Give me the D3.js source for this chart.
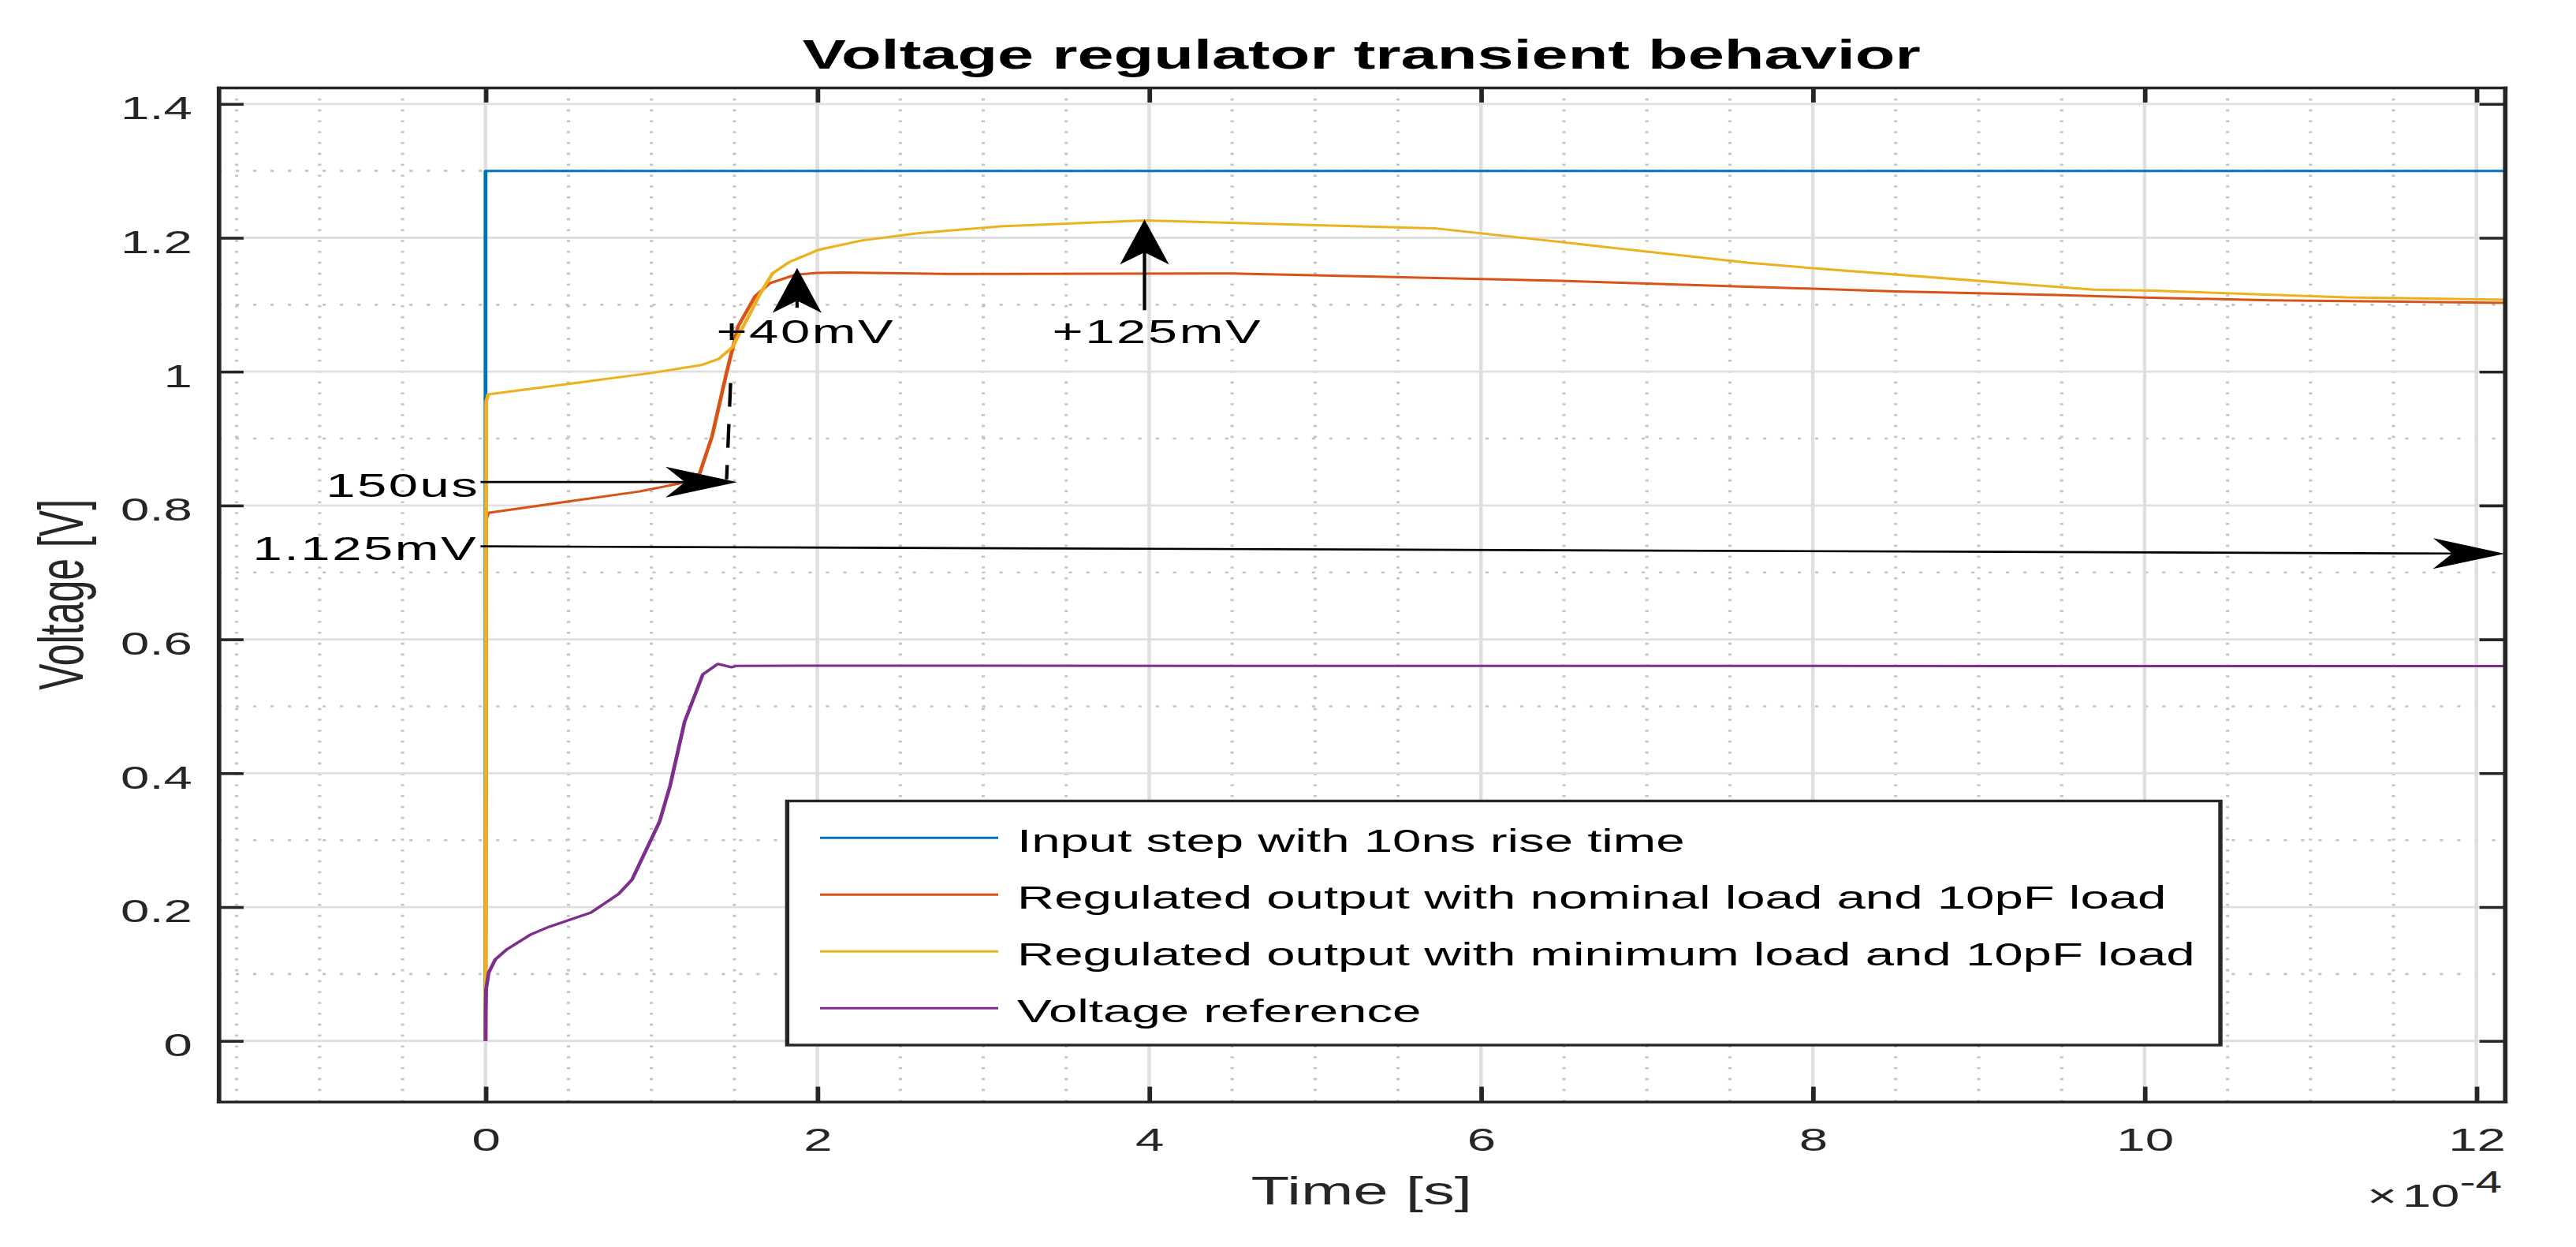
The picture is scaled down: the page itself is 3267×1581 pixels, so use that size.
<!DOCTYPE html>
<html lang="en">
  <head>
    <meta charset="UTF-8" />
    <title>Voltage regulator transient behavior</title>
    <script src="https://d3js.org/d3.v7.min.js"></script>
    <style>
      body {
        margin: 0;
        background: #fff;
        overflow: hidden;
      }
      svg {
        display: block;
      }
      text {
        font-family: "Liberation Sans", Arial, Helvetica, sans-serif;
      }
      .axis path,
      .axis line {
        stroke: #262626;
        stroke-width: 3.6;
      }
      .axis .domain {
        stroke-linecap: square;
      }
      .axis text {
        font-size: 41px;
        fill: #262626;
      }
    </style>
  </head>
  <body>
    <svg id="chart" width="3267" height="1581"></svg>

    <script>
      // Time values are in units of 1e-4 s (the axis shows "x10^-4")
      const inputT = [0, 0.0001, 12.17];
      const inputV = [0, 1.3, 1.3];

      const nominalT = [0, 0.004, 0.016, 0.5, 0.927, 1.19, 1.291, 1.365, 1.452, 1.523, 1.626, 1.713, 1.871, 2.0, 2.14, 2.77, 4.5, 6.475, 8.0, 8.5, 9.47, 10.0, 10.76, 12.17];
      const nominalV = [0, 0.78, 0.789, 0.806, 0.821, 0.834, 0.848, 0.903, 0.9975, 1.068, 1.113, 1.132, 1.145, 1.1475, 1.148, 1.146, 1.1467, 1.1358, 1.124, 1.12, 1.1145, 1.1107, 1.1067, 1.1028];

      const minimumT = [0, 0.004, 0.016, 0.6, 1.0, 1.302, 1.405, 1.49, 1.52, 1.588, 1.652, 1.73, 1.833, 2.007, 2.268, 2.614, 3.126, 3.974, 5.728, 6.397, 7.618, 8.0, 9.695, 10.05, 11.215, 12.17];
      const minimumV = [0, 0.955, 0.966, 0.985, 0.998, 1.01, 1.019, 1.037, 1.052, 1.084, 1.115, 1.147, 1.164, 1.182, 1.196, 1.207, 1.2175, 1.226, 1.214, 1.196, 1.1625, 1.1546, 1.1224, 1.121, 1.111, 1.1075];

      const referenceT = [0, 0.001, 0.004, 0.019, 0.058, 0.13, 0.27, 0.383, 0.637, 0.803, 0.883, 1.049, 1.112, 1.2, 1.31, 1.4, 1.484, 1.508, 1.92, 12.17];
      const referenceV = [0, 0.045, 0.078, 0.102, 0.1214, 0.137, 0.1587, 0.1705, 0.192, 0.2197, 0.241, 0.3276, 0.381, 0.477, 0.5477, 0.5633, 0.5583, 0.5603, 0.5606, 0.56];

      const seriesNames = [
        "Input step with 10ns rise time",
        "Regulated output with nominal load and 10pF load",
        "Regulated output with minimum load and 10pF load",
        "Voltage reference"
      ];
      const seriesColors = ["#0072bd", "#d95319", "#edb120", "#7e2f8e"];

      const xTicks = [0, 2, 4, 6, 8, 10, 12];
      const xTickLabels = ["0", "2", "4", "6", "8", "10", "12"];
      const xMinor = [-1.5, -1, -0.5, 0.5, 1, 1.5, 2.5, 3, 3.5, 4.5, 5, 5.5, 6.5, 7, 7.5, 8.5, 9, 9.5, 10.5, 11, 11.5];
      const yTicks = [0, 0.2, 0.4, 0.6, 0.8, 1, 1.2, 1.4];
      const yTickLabels = ["0", "0.2", "0.4", "0.6", "0.8", "1", "1.2", "1.4"];
      const yMinor = [0.1, 0.3, 0.5, 0.7, 0.9, 1.1, 1.3];

      // annotation arrows (data units)
      const arrowTails = [[-0.03, 0.835], [-0.03, 0.739], [1.878, 1.0955], [3.972, 1.0918]];
      const arrowTips = [[1.517, 0.835], [12.17, 0.728], [1.878, 1.155], [3.972, 1.2273]];
      const arrowLabels = ["150us", "1.125mV", "+40mV", "+125mV"];
      const labelAt = [[-0.035, 0.8128], [-0.045, 0.7183], [1.93, 1.0426], [4.05, 1.0426]];
      const labelAnchor = ["end", "end", "middle", "middle"];
      const dashFrom = [1.477, 0.983];
      const dashTo = [1.453, 0.839];

      // The reference figure is stretched horizontally; draw in an
      // unstretched space and scale the whole thing along x.
      const SX = 1.595;
      const pL = 277 / SX, pR = 3176.5 / SX, pT = 111, pB = 1396.7;

      const svg = d3.select("#chart");
      const g = svg.append("g").attr("transform", `scale(${SX},1)`);

      const x = d3.scaleLinear().domain([-1.61, 12.17]).range([pL, pR]);
      const y = d3.scaleLinear().domain([-0.0907, 1.4245]).range([pB, pT]);

      // Grid
      const grid = g.append("g");
      grid.selectAll(".gxm")
        .data(xMinor)
        .enter()
        .append("line")
        .attr("x1", d => x(d)).attr("x2", d => x(d))
        .attr("y1", pT).attr("y2", pB)
        .attr("stroke", "#c4c4c4").attr("stroke-width", 2.6)
        .attr("stroke-dasharray", "2.6 11.2");
      grid.selectAll(".gym")
        .data(yMinor)
        .enter()
        .append("line")
        .attr("y1", d => y(d)).attr("y2", d => y(d))
        .attr("x1", pL).attr("x2", pR)
        .attr("stroke", "#c4c4c4").attr("stroke-width", 2.6)
        .attr("stroke-dasharray", "2.6 11.2");
      grid.selectAll(".gx")
        .data(xTicks)
        .enter()
        .append("line")
        .attr("x1", d => x(d)).attr("x2", d => x(d))
        .attr("y1", pT).attr("y2", pB)
        .attr("stroke", "#dfdfdf").attr("stroke-width", 2.8);
      grid.selectAll(".gy")
        .data(yTicks)
        .enter()
        .append("line")
        .attr("y1", d => y(d)).attr("y2", d => y(d))
        .attr("x1", pL).attr("x2", pR)
        .attr("stroke", "#dfdfdf").attr("stroke-width", 2.8);

      // Lines
      g.append("clipPath").attr("id", "plotclip")
        .append("rect")
        .attr("x", pL).attr("y", pT)
        .attr("width", pR - pL).attr("height", pB - pT);

      const series = [
        d3.zip(inputT, inputV),
        d3.zip(nominalT, nominalV),
        d3.zip(minimumT, minimumV),
        d3.zip(referenceT, referenceV)
      ];
      const line = d3.line().x(d => x(d[0])).y(d => y(d[1]));

      g.append("g")
        .attr("clip-path", "url(#plotclip)")
        .selectAll("path")
        .data(series)
        .enter()
        .append("path")
        .attr("d", line)
        .attr("fill", "none")
        .attr("stroke", (d, i) => seriesColors[i])
        .attr("stroke-width", 3)
        .attr("stroke-linejoin", "round");

      // Axes: ticks inside on all four sides
      g.append("g")
        .attr("class", "axis")
        .attr("transform", `translate(${pL},0)`)
        .call(d3.axisLeft(y).tickValues(yTicks).tickFormat((d, i) => yTickLabels[i])
          .tickSizeInner(-20).tickSizeOuter(0).tickPadding(20.7))
        .selectAll("text").attr("dy", "0.46em");
      g.append("g")
        .attr("class", "axis")
        .attr("transform", `translate(${pR},0)`)
        .call(d3.axisRight(y).tickValues(yTicks).tickFormat("").tickSizeInner(-20).tickSizeOuter(0));
      g.append("g")
        .attr("class", "axis")
        .attr("transform", `translate(0,${pB})`)
        .call(d3.axisBottom(x).tickValues(xTicks).tickFormat((d, i) => xTickLabels[i])
          .tickSizeInner(-19).tickSizeOuter(0).tickPadding(33.3));
      g.append("g")
        .attr("class", "axis")
        .attr("transform", `translate(0,${pT})`)
        .call(d3.axisTop(x).tickValues(xTicks).tickFormat("").tickSizeInner(-19).tickSizeOuter(0));
      g.selectAll(".axis").attr("font-family", null).attr("font-size", null);

      // exponent label
      const expo = g.append("text")
        .attr("x", pR - 2)
        .attr("y", 1530)
        .attr("text-anchor", "end")
        .attr("fill", "#262626")
        .attr("font-size", 41);
      expo.append("tspan").text("\u00d7");
      expo.append("tspan").attr("dx", 4).text("10");
      expo.append("tspan").attr("dy", -18).attr("font-size", 38).text("-4");

      // Titles
      g.append("text")
        .attr("x", (pL + pR) / 2)
        .attr("y", 87)
        .attr("text-anchor", "middle")
        .attr("font-size", 52)
        .attr("font-weight", "bold")
        .attr("fill", "#000")
        .text("Voltage regulator transient behavior");
      g.append("text")
        .attr("x", (pL + pR) / 2)
        .attr("y", 1527)
        .attr("text-anchor", "middle")
        .attr("font-size", 50)
        .attr("fill", "#262626")
        .text("Time [s]");
      g.append("text")
        .attr("transform", `translate(${105 / SX},${(pT + pB) / 2}) rotate(-90)`)
        .attr("text-anchor", "middle")
        .attr("font-size", 50)
        .attr("fill", "#262626")
        .text("Voltage [V]");

      // Legend
      const lg = g.append("g");
      lg.append("rect")
        .attr("x", 998.4 / SX).attr("y", 1015.5)
        .attr("width", (2816 - 998.4) / SX).attr("height", 1325 - 1015.5)
        .attr("fill", "#fff")
        .attr("stroke", "#262626").attr("stroke-width", 3.4);
      const rows = lg.selectAll(".row")
        .data(seriesNames)
        .enter()
        .append("g")
        .attr("transform", (d, i) => `translate(0,${1062.3 + i * 72})`);
      rows.append("line")
        .attr("x1", 1040 / SX).attr("x2", 1266 / SX)
        .attr("stroke", (d, i) => seriesColors[i])
        .attr("stroke-width", 3);
      rows.append("text")
        .attr("x", 1290 / SX)
        .attr("y", 17.7)
        .attr("font-size", 41)
        .attr("fill", "#000")
        .text(d => d);

      // Annotations
      const AL = 57, AW = 19.5;
      function arrowHead(tip, tail) {
        const dx = tip[0] - tail[0], dy = tip[1] - tail[1];
        const len = Math.hypot(dx, dy);
        const ux = dx / len, uy = dy / len;
        const px = -uy, py = ux;
        return [
          [tip[0], tip[1]],
          [tip[0] - ux * AL + px * AW, tip[1] - uy * AL + py * AW],
          [tip[0] - ux * AL * 0.73, tip[1] - uy * AL * 0.73],
          [tip[0] - ux * AL - px * AW, tip[1] - uy * AL - py * AW]
        ];
      }
      const ann = g.append("g");
      arrowTails.forEach((t, i) => {
        const tail = [x(t[0]), y(t[1])];
        const tip = [x(arrowTips[i][0]), y(arrowTips[i][1])];
        const head = arrowHead(tip, tail);
        ann.append("line")
          .attr("x1", tail[0]).attr("y1", tail[1])
          .attr("x2", head[2][0]).attr("y2", head[2][1])
          .attr("stroke", "#000").attr("stroke-width", 2.7);
        ann.append("polygon")
          .attr("points", head.map(p => p.join(",")).join(" "))
          .attr("fill", "#000");
        ann.append("text")
          .attr("x", x(labelAt[i][0]))
          .attr("y", y(labelAt[i][1]))
          .attr("text-anchor", labelAnchor[i])
          .attr("font-size", 42)
          .attr("letter-spacing", 1.6)
          .attr("fill", "#000")
          .text(arrowLabels[i]);
      });
      ann.append("line")
        .attr("x1", x(dashFrom[0])).attr("y1", y(dashFrom[1]))
        .attr("x2", x(dashTo[0])).attr("y2", y(dashTo[1]))
        .attr("stroke", "#000").attr("stroke-width", 2.7)
        .attr("stroke-dasharray", "30 22");
    </script>
  </body>
</html>
